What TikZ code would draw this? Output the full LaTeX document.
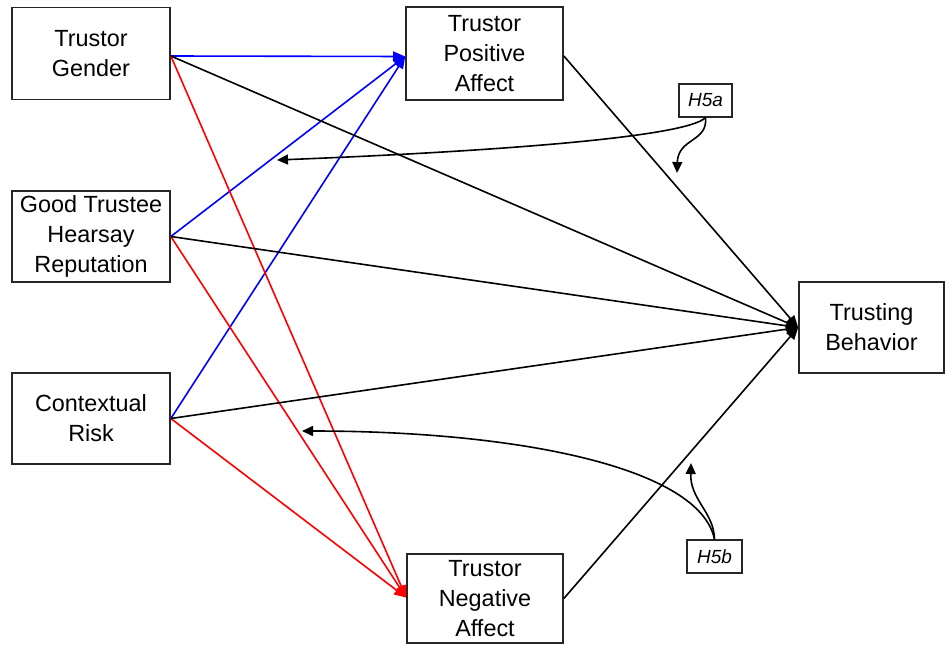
\documentclass[tikz,border=0pt]{standalone}
\usepackage{fontspec}
\setmainfont{Liberation Sans}
\usetikzlibrary{arrows.meta}
\begin{document}
\begin{tikzpicture}[x=1pt,y=-1pt,
  var/.style={draw=black!85,line width=1.7pt,fill=white,align=center,inner sep=0pt,
    font=\fontsize{23.4}{30}\selectfont},
  hyp/.style={draw=black!85,line width=1.3pt,fill=white,inner sep=0pt,
    font=\fontsize{19}{21}\selectfont\itshape},
  linkline/.style={line width=1.6pt,-{Triangle[length=12pt,width=10pt]}},
  poslink/.style={linkline,blue},
  neglink/.style={linkline,red},
  dirlink/.style={linkline,black},
  modlink/.style={line width=1.6pt,-{Triangle[length=11pt,width=10pt]}}
]
\useasboundingbox (0,0) rectangle (945,645);

% variables
\node[var,minimum width=158pt,minimum height=92pt] (g)  at (91,53.5)   {Trustor\\Gender};
\node[var,minimum width=158pt,minimum height=91pt] (r)  at (91,236.5)  {Good Trustee\\Hearsay\\Reputation};
\node[var,minimum width=158pt,minimum height=91pt] (c)  at (91,418.5)  {Contextual\\Risk};
\node[var,minimum width=157pt,minimum height=93pt] (pa) at (484.5,53.5) {Trustor\\Positive\\Affect};
\node[var,minimum width=156pt,minimum height=89pt] (na) at (485,598.5) {Trustor\\Negative\\Affect};
\node[var,minimum width=145pt,minimum height=91pt] (tb) at (871.5,327.5) {Trusting\\Behavior};

% hypothesis tags
\node[hyp,minimum width=53pt,minimum height=33pt] (h5a) at (705.5,100.5) {H5a};
\node[hyp,minimum width=55pt,minimum height=33pt] (h5b) at (714.5,556.5) {H5b};

% anchor points on the boxes
\coordinate (gs) at ([yshift=-2.5pt]g.east);
\coordinate (rs) at (r.east);
\coordinate (cs) at (c.east);
\coordinate (pin) at ([yshift=-3pt]pa.west);
\coordinate (nin) at ([yshift=1pt]na.west);

% paths to positive affect
\draw[poslink] (gs) -- (pin);
\draw[poslink] (rs) -- (pin);
\draw[poslink] (cs) -- (pin);

% paths to negative affect
\draw[neglink] (gs) -- (nin);
\draw[neglink] (rs) -- (nin);
\draw[neglink] (cs) -- (nin);

% direct paths to trusting behavior
\draw[dirlink] (gs) -- (tb.west);
\draw[dirlink] (rs) -- (tb.west);
\draw[dirlink] (cs) -- (tb.west);
\draw[dirlink] ([yshift=-2.5pt]pa.east) -- (tb.west);
\draw[dirlink] (na.east) -- (tb.west);

% moderation arrows
\coordinate (a1) at (277,160);
\coordinate (a2) at (677,173);
\coordinate (b1) at (302,431);
\coordinate (b2) at (691,463);
\draw[modlink] (h5a.south) .. controls (685,138) and (480,152) .. (a1);
\draw[modlink] (h5a.south) .. controls (708,142) and (678,138) .. (a2);
\draw[modlink] (h5b.north) .. controls (700,468) and (520,431) .. (b1);
\draw[modlink] (h5b.north) .. controls (714,512) and (690,500) .. (b2);
\end{tikzpicture}
\end{document}
